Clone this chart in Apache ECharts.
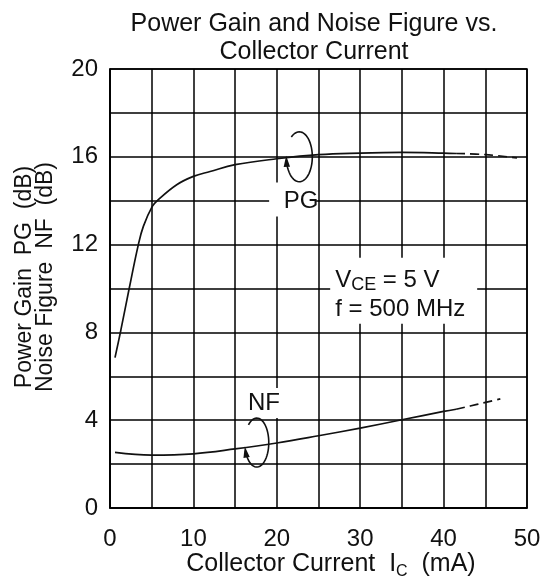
<!DOCTYPE html>
<html><head><meta charset="utf-8">
<script src="https://cdn.jsdelivr.net/npm/echarts@6/dist/echarts.min.js"></script>
<style>html,body{margin:0;padding:0;background:#fff}#c{width:552px;height:576px}</style>
</head><body><div id="c"></div>
<script>
// ---- data ----
const xTicks = [0, 10, 20, 30, 40, 50];
const yTicks = [0, 4, 8, 12, 16, 20];
const pgCurrent = [0.6, 1.3, 2.3, 3.4, 4.0, 5.07, 5.8, 8, 10, 12, 15, 20, 25, 30, 35, 40, 41.5];
const pgValues  = [6.85, 8.1, 10.0, 12.0, 12.83, 13.74, 14.05, 14.73, 15.11, 15.33, 15.64, 15.91, 16.1, 16.17, 16.2, 16.17, 16.15];
const pgDashCurrent = [41.5, 45, 48.8];
const pgDashValues  = [16.15, 16.1, 15.95];
const nfCurrent = [0.6, 5, 10, 15, 20, 25, 30, 35, 40, 41.5];
const nfValues  = [2.53, 2.41, 2.47, 2.69, 2.96, 3.29, 3.64, 4.02, 4.4, 4.5];
const nfDashCurrent = [41.5, 44, 46.8];
const nfDashValues  = [4.5, 4.72, 4.97];
const titleLines = ['Power Gain and Noise Figure vs.', 'Collector Current'];
const yNameLines = ['Power Gain  PG  (dB)', 'Noise Figure  NF  (dB)'];

const FONT = '"Liberation Sans", Arial, sans-serif';
const INK = '#111';
const zip = (xs, ys) => xs.map((x, i) => [x, ys[i]]);

const chart = echarts.init(document.getElementById('c'), null, {renderer: 'canvas'});
const gridLine = {color: '#000', width: 1.5};
const lineSeries = (name, data, dashed) => ({
  name, type: 'line', data, symbol: 'none', smooth: 0.4,
  lineStyle: {color: INK, width: 1.7, type: dashed ? [9, 5] : 'solid'},
  silent: true, z: 5
});

chart.setOption({
  animation: false,
  backgroundColor: '#fff',
  title: {
    text: titleLines.join('\n'), left: 309, top: 5, textAlign: 'center',
    textStyle: {fontFamily: FONT, fontSize: 25, lineHeight: 28, fontWeight: 'normal', color: INK}
  },
  grid: {left: 110, right: 25, top: 69, bottom: 68, show: true, borderColor: '#000', borderWidth: 1.5,
         containLabel: false, outerBoundsMode: 'none'},
  xAxis: {
    type: 'value', min: xTicks[0], max: xTicks[xTicks.length - 1], interval: xTicks[1] - xTicks[0],
    axisLine: {show: true, lineStyle: gridLine}, axisTick: {show: false},
    minorTick: {show: false, splitNumber: 2},
    splitLine: {show: true, lineStyle: gridLine},
    minorSplitLine: {show: true, lineStyle: gridLine},
    axisLabel: {fontFamily: FONT, fontSize: 24, color: INK, margin: 19},
    name: '{m|Collector Current  I}{s|C}{m|  (mA)}', nameLocation: 'middle', nameGap: 40,
    nameMoveOverlap: false,
    nameTextStyle: {
      padding: [0, 0, 0, 25],
      rich: {
        m: {fontFamily: FONT, fontSize: 25, lineHeight: 32, color: INK},
        s: {fontFamily: FONT, fontSize: 16, lineHeight: 16, verticalAlign: 'bottom', color: INK}
      }
    }
  },
  yAxis: {
    type: 'value', min: yTicks[0], max: yTicks[yTicks.length - 1], interval: yTicks[1] - yTicks[0],
    axisLine: {show: true, lineStyle: gridLine}, axisTick: {show: false},
    minorTick: {show: false, splitNumber: 2},
    splitLine: {show: true, lineStyle: gridLine},
    minorSplitLine: {show: true, lineStyle: gridLine},
    axisLabel: {fontFamily: FONT, fontSize: 24, color: INK, margin: 12},
    name: yNameLines.join('\n'), nameLocation: 'middle', nameRotate: 90, nameGap: 54,
    nameTextStyle: {fontFamily: FONT, fontSize: 23, lineHeight: 21, color: INK, padding: [0, 0, 0, 23]}
  },
  series: [
    lineSeries('PG', zip(pgCurrent, pgValues), false),
    lineSeries('PG ext', zip(pgDashCurrent, pgDashValues), true),
    lineSeries('NF', zip(nfCurrent, nfValues), false),
    lineSeries('NF ext', zip(nfDashCurrent, nfDashValues), true)
  ]
});

// ---- annotations (anchored in data space) ----
const px = p => chart.convertToPixel({gridIndex: 0}, p);
function loop(center, rx, ry, a0, a1) {
  const [cx, cy] = px(center);
  const pts = [];
  const N = 48;
  for (let i = 0; i <= N; i++) {
    const a = (a0 + (a1 - a0) * i / N) * Math.PI / 180;
    pts.push([cx + rx * Math.cos(a), cy + ry * Math.sin(a)]);
  }
  const a = a1 * Math.PI / 180;
  let tx = -rx * Math.sin(a), ty = ry * Math.cos(a);
  const L = Math.hypot(tx, ty); tx /= L; ty /= L;
  const end = pts[N];
  const tip = [end[0] + tx * 4, end[1] + ty * 4];
  const base = [tip[0] - tx * 11, tip[1] - ty * 11];
  const nx = -ty, ny = tx;
  const tri = [tip, [base[0] + nx * 3.2, base[1] + ny * 3.2], [base[0] - nx * 3.2, base[1] - ny * 3.2]];
  return [
    {type: 'polyline', shape: {points: pts}, style: {stroke: INK, lineWidth: 1.6, fill: null}, z: 100},
    {type: 'polygon', shape: {points: tri}, style: {fill: INK}, z: 100}
  ];
}
function whiteBox(center, w, h) {
  const [cx, cy] = px(center);
  return {type: 'rect', shape: {x: cx - w / 2, y: cy - h / 2, width: w, height: h}, style: {fill: '#fff'}, z: 90};
}
function label(center, text) {
  const [cx, cy] = px(center);
  return {type: 'text', x: cx, y: cy, z: 100,
    style: {text, fontFamily: FONT, fontSize: 24, fill: INK, align: 'center', verticalAlign: 'middle'}};
}
const condTopLeft = px([26.4, 11.4]);
const condText = px([27.0, 11.05]);

chart.setOption({
  graphic: [
    whiteBox([21.9, 14.05], 47, 34),
    label([22.9, 13.95], 'PG'),
    whiteBox([18.45, 4.78], 40, 30),
    label([18.45, 4.78], 'NF'),
    {type: 'rect', shape: {x: condTopLeft[0], y: condTopLeft[1], width: 147, height: 66}, style: {fill: '#fff'}, z: 90},
    {type: 'text', x: condText[0], y: condText[1], z: 100,
      style: {
        text: '{m|V}{s|CE}{m| = 5 V}\n{m|f = 500 MHz}', align: 'left', verticalAlign: 'top',
        rich: {
          m: {fontFamily: FONT, fontSize: 24, lineHeight: 29, fill: INK, color: INK},
          s: {fontFamily: FONT, fontSize: 18, lineHeight: 10, verticalAlign: 'bottom', fill: INK, color: INK}
        }
      }},
    ...loop([22.7, 16.0], 13, 25, -128, 173),
    ...loop([17.6, 2.98], 12, 24.5, -134, 161)
  ]
});
</script></body></html>
